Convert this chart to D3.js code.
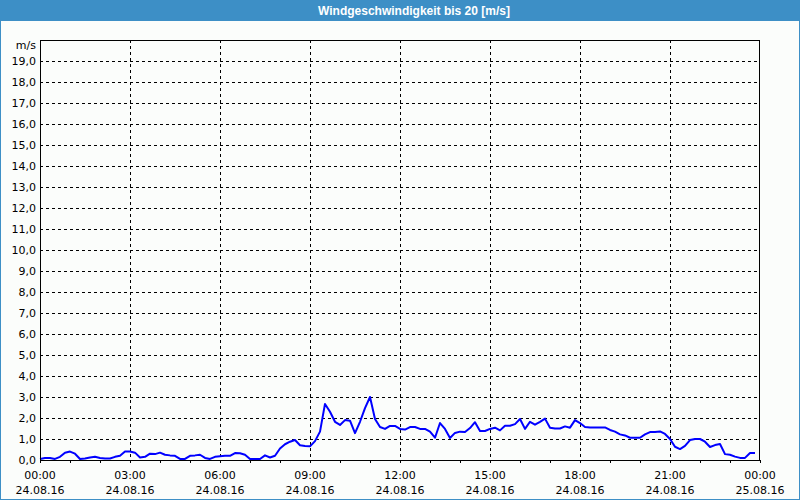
<!DOCTYPE html>
<html><head><meta charset="utf-8">
<script src="https://cdn.jsdelivr.net/npm/d3@7"></script>
<style>body{margin:0;padding:0;background:#fff}svg{display:block}</style>
</head><body>
<svg id="c" width="800" height="500"></svg>
<script>
const title = "Windgeschwindigkeit bis 20 [m/s]";
const unitLabel = "m/s";
const startTime = "2016-08-24T00:00:00";
const endTime = "2016-08-25T00:00:00";
const stepMinutes = 10;
// wind speed in m/s, one value every 10 minutes from 24.08.16 00:00
const speeds = [
0.05,0.1,0.1,0.05,0.15,0.35,0.4,0.3,0.05,0.07,0.12,0.15,0.1,0.07,0.07,0.15,0.2,0.4,0.4,0.35,
0.12,0.15,0.3,0.28,0.35,0.25,0.22,0.2,0.05,0.05,0.2,0.22,0.25,0.1,0.05,0.15,0.18,0.2,0.2,0.33,
0.32,0.25,0.05,0.05,0.05,0.22,0.12,0.2,0.55,0.75,0.87,0.95,0.7,0.67,0.65,0.9,1.35,2.67,2.3,1.82,
1.67,1.9,1.87,1.28,1.82,2.47,3.0,1.95,1.57,1.48,1.62,1.62,1.48,1.45,1.57,1.57,1.48,1.48,1.35,1.06,
1.76,1.48,1.05,1.29,1.35,1.33,1.52,1.8,1.38,1.38,1.48,1.54,1.41,1.63,1.63,1.71,1.95,1.48,1.82,1.68,
1.82,1.97,1.54,1.5,1.5,1.6,1.54,1.9,1.76,1.57,1.55,1.55,1.55,1.55,1.43,1.35,1.22,1.17,1.06,1.06,
1.06,1.22,1.33,1.33,1.36,1.24,1.0,0.63,0.52,0.67,0.95,1.0,1.0,0.87,0.62,0.71,0.76,0.28,0.25,0.16,
0.1,0.1,0.33,0.33
];
const yTicks = d3.range(0, 20, 1);
const xTickHours = [0,3,6,9,12,15,18,21,24];

const svg = d3.select("#c");
const W = 800, H = 500;
const m = {l:40, r:40, t:40, b:40};
const t0 = new Date(startTime), t1 = new Date(endTime);
const x = d3.scaleTime().domain([t0, t1]).range([m.l, W - m.r]);
const y = d3.scaleLinear().domain([0, 20]).range([H - m.b, m.t]);
const data = speeds.map((v,i)=>({t:new Date(t0.getTime()+i*stepMinutes*60000), v}));

// background & frame
svg.append("rect").attr("x",0).attr("y",0).attr("width",W).attr("height",H).attr("fill","#fbfdfb");
svg.append("rect").attr("x",0.5).attr("y",0.5).attr("width",W-1).attr("height",H-1)
  .attr("fill","none").attr("stroke","#3d8fc6").attr("stroke-width",1);
svg.append("rect").attr("x",0).attr("y",0).attr("width",W).attr("height",21).attr("fill","#3d8fc6");
svg.append("text").attr("x",W/2+14).attr("y",15).attr("text-anchor","middle")
  .attr("fill","#fff").attr("font-family","Liberation Sans").attr("font-size",12).attr("font-weight","bold")
  .text(title);

const font = "DejaVu Sans";
// grid
const tickTimes = xTickHours.map(h=>new Date(t0.getTime()+h*3600000));
svg.append("g").selectAll("line").data(yTicks.filter(d=>d>0)).join("line")
  .attr("x1",m.l).attr("x2",W-m.r).attr("y1",d=>Math.round(y(d))+0.5).attr("y2",d=>Math.round(y(d))+0.5)
  .attr("stroke","#000").attr("stroke-dasharray","3,3");
svg.append("g").selectAll("line").data(tickTimes.slice(1,-1)).join("line")
  .attr("x1",d=>Math.round(x(d))+0.5).attr("x2",d=>Math.round(x(d))+0.5).attr("y1",m.t).attr("y2",H-m.b)
  .attr("stroke","#000").attr("stroke-dasharray","3,3");

// y axis labels
const yAxis = d3.axisLeft(y).tickValues(yTicks).tickSize(0).tickPadding(4)
  .tickFormat(d=>d3.format(".1f")(d).replace(".",","));
const gy = svg.append("g").attr("transform",`translate(${m.l},0)`).call(yAxis);
gy.select(".domain").remove();
gy.selectAll("text").attr("font-family",font).attr("font-size",11).attr("fill","#000");
svg.append("text").attr("x",m.l-4).attr("y",m.t+9).attr("text-anchor","end")
  .attr("font-family",font).attr("font-size",11).text(unitLabel);

// x axis: hourly minor ticks + labels
const hourly = d3.timeHour.every(1).range(t0, d3.timeHour.offset(t1,1));
const xAxis = d3.axisBottom(x).tickValues(hourly).tickSize(3).tickFormat("");
const gx = svg.append("g").attr("transform",`translate(0,${H-m.b})`).call(xAxis);
gx.select(".domain").remove();
gx.selectAll("line").attr("stroke","#000");
const fmtT = d3.timeFormat("%H:%M"), fmtD = d3.timeFormat("%d.%m.%y");
const lab = svg.append("g").selectAll("text").data(tickTimes).join("text")
  .attr("x",d=>x(d)).attr("y",H-m.b+19).attr("text-anchor","middle")
  .attr("font-family",font).attr("font-size",11);
lab.append("tspan").attr("x",d=>x(d)).text(d=>fmtT(d));
lab.append("tspan").attr("x",d=>x(d)).attr("dy",15).text(d=>fmtD(d));

// line
svg.append("path").datum(data).attr("fill","none").attr("stroke","#0000ff").attr("stroke-width",2)
  .attr("stroke-linejoin","round")
  .attr("d", d3.line().x(d=>x(d.t)).y(d=>y(d.v)));

// plot frame
svg.append("rect").attr("x",m.l+0.5).attr("y",m.t+0.5).attr("width",W-m.l-m.r-1).attr("height",H-m.t-m.b)
  .attr("fill","none").attr("stroke","#000").attr("stroke-width",1);
</script>
</body></html>
